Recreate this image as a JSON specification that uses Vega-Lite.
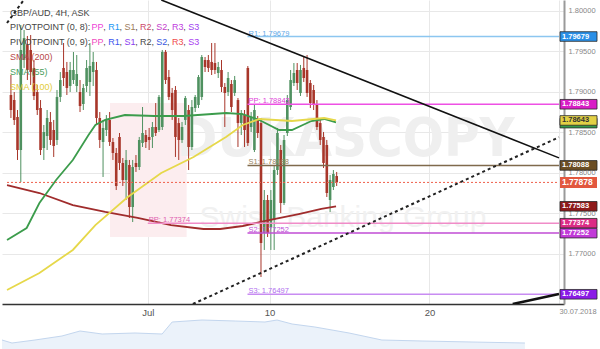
{
"$schema": "https://vega.github.io/schema/vega-lite/v6.json",
"padding": 0,
"background": "white",
"config": {"view": {"stroke": null}, "font": "Liberation Sans"},
"bounds": "flush",
"spacing": 16,
"datasets": {
"candles": [
{"i":0,"o":1.78957,"c":1.78772,"h":1.79204,"l":1.78673},
{"i":1,"o":1.78895,"c":1.78649,"h":1.78994,"l":1.78587},
{"i":2,"o":1.78686,"c":1.78278,"h":1.78772,"l":1.78155},
{"i":3,"o":1.78278,"c":1.79513,"h":1.79821,"l":1.77883},
{"i":4,"o":1.79389,"c":1.79661,"h":1.79760,"l":1.79291},
{"i":5,"o":1.79574,"c":1.79266,"h":1.79686,"l":1.79142},
{"i":6,"o":1.79513,"c":1.79241,"h":1.79698,"l":1.79081},
{"i":7,"o":1.79291,"c":1.78945,"h":1.79389,"l":1.78895},
{"i":8,"o":1.78994,"c":1.78772,"h":1.79081,"l":1.78710},
{"i":9,"o":1.78797,"c":1.78278,"h":1.78895,"l":1.78216},
{"i":10,"o":1.78303,"c":1.78500,"h":1.78587,"l":1.78155},
{"i":11,"o":1.78451,"c":1.78673,"h":1.78772,"l":1.78278},
{"i":12,"o":1.78624,"c":1.78402,"h":1.78747,"l":1.78340},
{"i":13,"o":1.78525,"c":1.78328,"h":1.78649,"l":1.78192},
{"i":14,"o":1.78402,"c":1.78933,"h":1.79019,"l":1.78340},
{"i":15,"o":1.78933,"c":1.79142,"h":1.79241,"l":1.78871},
{"i":16,"o":1.79291,"c":1.79167,"h":1.79599,"l":1.79068},
{"i":17,"o":1.79241,"c":1.79044,"h":1.79365,"l":1.78957},
{"i":18,"o":1.79068,"c":1.79266,"h":1.79365,"l":1.78994},
{"i":19,"o":1.79142,"c":1.79266,"h":1.79488,"l":1.79093},
{"i":20,"o":1.79068,"c":1.79216,"h":1.79451,"l":1.78994},
{"i":21,"o":1.78994,"c":1.78821,"h":1.79142,"l":1.78747},
{"i":22,"o":1.78846,"c":1.79044,"h":1.79093,"l":1.78772},
{"i":23,"o":1.79068,"c":1.79291,"h":1.79389,"l":1.78994},
{"i":24,"o":1.79118,"c":1.79315,"h":1.79599,"l":1.78945},
{"i":25,"o":1.79241,"c":1.79365,"h":1.79488,"l":1.79068},
{"i":26,"o":1.79266,"c":1.78673,"h":1.79365,"l":1.78587},
{"i":27,"o":1.78673,"c":1.78402,"h":1.78747,"l":1.78303},
{"i":28,"o":1.78377,"c":1.78550,"h":1.78649,"l":1.77945},
{"i":29,"o":1.78525,"c":1.78649,"h":1.78710,"l":1.78451},
{"i":30,"o":1.78649,"c":1.78377,"h":1.78747,"l":1.78328},
{"i":31,"o":1.78377,"c":1.78241,"h":1.78426,"l":1.78155},
{"i":32,"o":1.78241,"c":1.77834,"h":1.78303,"l":1.77784},
{"i":33,"o":1.78439,"c":1.78118,"h":1.78488,"l":1.78031},
{"i":34,"o":1.78118,"c":1.77908,"h":1.78179,"l":1.77834},
{"i":35,"o":1.77908,"c":1.78155,"h":1.78278,"l":1.77661},
{"i":36,"o":1.78093,"c":1.77574,"h":1.78155,"l":1.77439},
{"i":37,"o":1.77574,"c":1.78068,"h":1.78155,"l":1.77389},
{"i":38,"o":1.78118,"c":1.78068,"h":1.78216,"l":1.78007},
{"i":39,"o":1.78068,"c":1.78402,"h":1.78439,"l":1.78031},
{"i":40,"o":1.78365,"c":1.78488,"h":1.78809,"l":1.78315},
{"i":41,"o":1.78463,"c":1.78377,"h":1.78525,"l":1.78303},
{"i":42,"o":1.78439,"c":1.78402,"h":1.78550,"l":1.78278},
{"i":43,"o":1.78439,"c":1.78562,"h":1.78624,"l":1.78303},
{"i":44,"o":1.78562,"c":1.78488,"h":1.78858,"l":1.78451},
{"i":45,"o":1.78525,"c":1.78933,"h":1.78957,"l":1.78500},
{"i":46,"o":1.78562,"c":1.79488,"h":1.79513,"l":1.78525},
{"i":47,"o":1.79488,"c":1.79142,"h":1.79513,"l":1.79093},
{"i":48,"o":1.79179,"c":1.78933,"h":1.79266,"l":1.78895},
{"i":49,"o":1.78982,"c":1.78772,"h":1.79044,"l":1.78649},
{"i":50,"o":1.79019,"c":1.78439,"h":1.79068,"l":1.78192},
{"i":51,"o":1.78611,"c":1.78402,"h":1.78673,"l":1.78155},
{"i":52,"o":1.78402,"c":1.78562,"h":1.78624,"l":1.78365},
{"i":53,"o":1.78649,"c":1.78920,"h":1.78945,"l":1.78587},
{"i":54,"o":1.78772,"c":1.78315,"h":1.78834,"l":1.78031},
{"i":55,"o":1.78315,"c":1.78809,"h":1.78895,"l":1.78278},
{"i":56,"o":1.78797,"c":1.78933,"h":1.78957,"l":1.78747},
{"i":57,"o":1.78834,"c":1.79179,"h":1.79204,"l":1.78797},
{"i":58,"o":1.78933,"c":1.79426,"h":1.79451,"l":1.78895},
{"i":59,"o":1.79389,"c":1.79303,"h":1.79426,"l":1.79241},
{"i":60,"o":1.79389,"c":1.79291,"h":1.79451,"l":1.79241},
{"i":61,"o":1.79365,"c":1.79266,"h":1.79599,"l":1.79204},
{"i":62,"o":1.79352,"c":1.79266,"h":1.79599,"l":1.79216},
{"i":63,"o":1.79229,"c":1.79303,"h":1.79365,"l":1.79167},
{"i":64,"o":1.79266,"c":1.79056,"h":1.79389,"l":1.78994},
{"i":65,"o":1.79056,"c":1.78982,"h":1.79105,"l":1.78562},
{"i":66,"o":1.78994,"c":1.79167,"h":1.79241,"l":1.78945},
{"i":67,"o":1.79093,"c":1.78809,"h":1.79142,"l":1.78747},
{"i":68,"o":1.78982,"c":1.79142,"h":1.79192,"l":1.78945},
{"i":69,"o":1.78895,"c":1.78611,"h":1.78920,"l":1.78315},
{"i":70,"o":1.78611,"c":1.78735,"h":1.78772,"l":1.78463},
{"i":71,"o":1.78710,"c":1.78525,"h":1.78772,"l":1.78315},
{"i":72,"o":1.79291,"c":1.78365,"h":1.79315,"l":1.78328},
{"i":73,"o":1.78562,"c":1.78686,"h":1.78747,"l":1.78500},
{"i":74,"o":1.78278,"c":1.78772,"h":1.78834,"l":1.78253},
{"i":75,"o":1.78649,"c":1.78488,"h":1.78698,"l":1.78426},
{"i":76,"o":1.78611,"c":1.77130,"h":1.78673,"l":1.76710},
{"i":77,"o":1.77253,"c":1.77661,"h":1.77784,"l":1.77044},
{"i":78,"o":1.77661,"c":1.77253,"h":1.77723,"l":1.77204},
{"i":79,"o":1.77328,"c":1.77661,"h":1.77784,"l":1.77044},
{"i":80,"o":1.77414,"c":1.78031,"h":1.78093,"l":1.77044},
{"i":81,"o":1.78031,"c":1.78488,"h":1.78550,"l":1.77970},
{"i":82,"o":1.78278,"c":1.77624,"h":1.78340,"l":1.77500},
{"i":83,"o":1.77624,"c":1.78402,"h":1.78463,"l":1.77599},
{"i":84,"o":1.78488,"c":1.78895,"h":1.78957,"l":1.78451},
{"i":85,"o":1.78809,"c":1.79142,"h":1.79266,"l":1.78772},
{"i":86,"o":1.79105,"c":1.79229,"h":1.79352,"l":1.79068},
{"i":87,"o":1.79266,"c":1.79105,"h":1.79352,"l":1.79019},
{"i":88,"o":1.78982,"c":1.79266,"h":1.79328,"l":1.78945},
{"i":89,"o":1.79291,"c":1.79167,"h":1.79426,"l":1.79118},
{"i":90,"o":1.79266,"c":1.78982,"h":1.79451,"l":1.78933},
{"i":91,"o":1.79105,"c":1.78858,"h":1.79142,"l":1.78797},
{"i":92,"o":1.79019,"c":1.78834,"h":1.79081,"l":1.78772},
{"i":93,"o":1.78834,"c":1.78562,"h":1.78895,"l":1.78525},
{"i":94,"o":1.78611,"c":1.78402,"h":1.78673,"l":1.78340},
{"i":95,"o":1.78439,"c":1.78118,"h":1.78500,"l":1.78056},
{"i":96,"o":1.78340,"c":1.77747,"h":1.78402,"l":1.77698},
{"i":97,"o":1.77661,"c":1.77908,"h":1.77970,"l":1.77513},
{"i":98,"o":1.77821,"c":1.77982,"h":1.78031,"l":1.77784},
{"i":99,"o":1.77957,"c":1.77878,"h":1.78007,"l":1.77834}
],
"sma": [
{"s":"s200","i":-1.19,"v":1.77846},{"s":"s200","i":8.66,"v":1.77747},{"s":"s200","i":18.81,"v":1.77599},{"s":"s200","i":28.66,"v":1.77513},{"s":"s200","i":38.51,"v":1.77439},{"s":"s200","i":48.66,"v":1.77352},{"s":"s200","i":58.51,"v":1.77303},{"s":"s200","i":63.58,"v":1.77303},{"s":"s200","i":70.45,"v":1.7734},{"s":"s200","i":77.31,"v":1.77402},{"s":"s200","i":87.46,"v":1.77488},{"s":"s200","i":94.33,"v":1.7755},{"s":"s200","i":98.81,"v":1.77583},
{"s":"s55","i":-1.19,"v":1.77167},{"s":"s55","i":4.78,"v":1.77315},{"s":"s55","i":8.66,"v":1.77624},{"s":"s55","i":13.73,"v":1.77908},{"s":"s55","i":18.81,"v":1.78155},{"s":"s55","i":23.58,"v":1.78463},{"s":"s55","i":25.67,"v":1.78587},{"s":"s55","i":28.66,"v":1.78649},{"s":"s55","i":34.63,"v":1.7871},{"s":"s55","i":43.58,"v":1.78698},{"s":"s55","i":52.54,"v":1.78698},{"s":"s55","i":65.4,"v":1.78735},{"s":"s55","i":70.4,"v":1.78722},{"s":"s55","i":75.5,"v":1.78649},{"s":"s55","i":81.5,"v":1.78525},{"s":"s55","i":85.4,"v":1.78525},{"s":"s55","i":91.3,"v":1.78636},{"s":"s55","i":95.2,"v":1.78661},{"s":"s55","i":98.81,"v":1.78618},
{"s":"s100","i":-1.19,"v":1.7655},{"s":"s100","i":8.66,"v":1.7676},{"s":"s100","i":18.81,"v":1.77044},{"s":"s100","i":25.67,"v":1.77352},{"s":"s100","i":35.52,"v":1.77698},{"s":"s100","i":45.67,"v":1.77994},{"s":"s100","i":55.52,"v":1.78192},{"s":"s100","i":65.37,"v":1.78439},{"s":"s100","i":70.45,"v":1.78587},{"s":"s100","i":75.52,"v":1.78661},{"s":"s100","i":85.37,"v":1.78636},{"s":"s100","i":95.22,"v":1.78673},{"s":"s100","i":98.81,"v":1.78643}
],
"pivots": [
{"k":"R1","p":1.79679,"s":71.9,"t":"R1: 1.79679"},
{"k":"PP","p":1.78843,"s":71.9,"t":"PP: 1.78843"},
{"k":"S1","p":1.78088,"s":71.9,"t":"S1: 1.78088"},
{"k":"S2","p":1.77252,"s":71.9,"t":"S2: 1.77252"},
{"k":"S3","p":1.76497,"s":71.9,"t":"S3: 1.76497"},
{"k":"PP9","p":1.77374,"s":41.6,"t":"PP: 1.77374"}
],
"trend": [
{"id":"down","i":45.7,"v":1.8013},{"id":"down","i":166.567,"v":1.78181},
{"id":"up","i":55.3,"v":1.76377},{"id":"up","i":166.567,"v":1.78436},
{"id":"corner","i":-1.194,"v":1.79846},{"id":"corner","i":3.9,"v":1.8013},
{"id":"thick","i":152.5,"v":1.76377},{"id":"thick","i":166.567,"v":1.765}
],
"leg": [
{"t":"GBP/AUD, 4H, ASK","k":"base","i":-0.3,"p":1.79973},
{"t":"PIVOTPOINT (0, 8):","k":"base","i":-0.3,"p":1.798},
{"t":"PP","k":"a_pp","i":24.48,"p":1.798},{"t":",","k":"base","i":28.06,"p":1.798},
{"t":"R1","k":"a_r1","i":29.55,"p":1.798},{"t":",","k":"base","i":32.99,"p":1.798},
{"t":"S1","k":"a_s1","i":34.48,"p":1.798},{"t":",","k":"base","i":37.76,"p":1.798},
{"t":"R2","k":"a_r2","i":39.25,"p":1.798},{"t":",","k":"base","i":42.69,"p":1.798},
{"t":"S2","k":"a_s2","i":44.18,"p":1.798},{"t":",","k":"base","i":47.46,"p":1.798},
{"t":"R3","k":"a_r3","i":48.96,"p":1.798},{"t":",","k":"base","i":52.39,"p":1.798},
{"t":"S3","k":"a_s3","i":53.88,"p":1.798},
{"t":"PIVOTPOINT (0, 9):","k":"base","i":-0.3,"p":1.79615},
{"t":"PP","k":"b_pp","i":24.48,"p":1.79615},{"t":",","k":"base","i":28.06,"p":1.79615},
{"t":"R1","k":"b_r1","i":29.55,"p":1.79615},{"t":",","k":"base","i":32.99,"p":1.79615},
{"t":"S1","k":"b_s1","i":34.48,"p":1.79615},{"t":",","k":"base","i":37.76,"p":1.79615},
{"t":"R2","k":"b_r2","i":39.25,"p":1.79615},{"t":",","k":"base","i":42.69,"p":1.79615},
{"t":"S2","k":"b_s2","i":44.18,"p":1.79615},{"t":",","k":"base","i":47.46,"p":1.79615},
{"t":"R3","k":"b_r3","i":48.96,"p":1.79615},{"t":",","k":"base","i":52.39,"p":1.79615},
{"t":"S3","k":"b_s3","i":53.88,"p":1.79615},
{"t":"SMA (200)","k":"l200","i":-0.3,"p":1.7943},
{"t":"SMA (55)","k":"l55","i":-0.3,"p":1.79245},
{"t":"SMA (100)","k":"l100","i":-0.3,"p":1.7906}
],
"tags": [
{"k":"r1","p":1.79679,"t":"1.79679"},
{"k":"pp","p":1.78843,"t":"1.78843"},
{"k":"s55","p":1.7861,"t":"1.78610"},
{"k":"s100","p":1.78643,"t":"1.78643"},
{"k":"s1","p":1.78088,"t":"1.78088"},
{"k":"s200","p":1.77583,"t":"1.77583"},
{"k":"pp9","p":1.77374,"t":"1.77374"},
{"k":"s2","p":1.77252,"t":"1.77252"},
{"k":"s3","p":1.76497,"t":"1.76497"},
{"k":"last","p":1.77878,"t":"1.77878"}
],
"nav": [
{"i":-1.19,"h":9},{"i":1.79,"h":6},{"i":8.66,"h":9},{"i":16.7,"h":13},{"i":22.1,"h":18},{"i":28.7,"h":15},{"i":38.5,"h":16},{"i":46.6,"h":15},{"i":49.6,"h":27},{"i":58.5,"h":29},{"i":68.4,"h":28},{"i":77.3,"h":27},{"i":80.9,"h":29},{"i":85.4,"h":25},{"i":92.2,"h":22},{"i":102.4,"h":16},{"i":112.2,"h":9},{"i":124.2,"h":8},{"i":139.1,"h":7},{"i":154.9,"h":6}
]
},
"vconcat": [
{
"width": 562,
"height": 304,
"encoding": {
"x": {"type": "quantitative", "scale": {"domain": [-1.194, 166.567], "nice": false, "zero": false},
 "axis": {"values": [41.6, 78.6, 127.2, 166.567], "title": null, "ticks": false, "domain": true, "domainColor": "#333333", "domainWidth": 1.5, "grid": true, "gridColor": "#e8e8e8", "labelPadding": 3, "labelOverlap": false, "labelBound": false, "labelFlush": false,
  "labelExpr": "datum.value < 60 ? 'Jul' : datum.value < 100 ? '10' : datum.value < 150 ? '20' : '30.07.2018'",
  "labelAlign": {"condition": {"test": "datum.value > 150", "value": "left"}, "value": "center"},
  "labelFontSize": {"condition": {"test": "datum.value > 150", "value": 7.4}, "value": 9.5},
  "labelColor": {"condition": {"test": "datum.value > 150", "value": "#888888"}, "value": "#555555"}}},
"y": {"type": "quantitative", "scale": {"domain": [1.76377, 1.8013], "nice": false, "zero": false},
 "axis": {"orient": "right", "values": [1.77, 1.775, 1.78, 1.785, 1.79, 1.795, 1.8], "format": ".5f", "title": null, "ticks": false, "domainColor": "#9a9a9a", "domainWidth": 2, "grid": true, "gridColor": "#e8e8e8", "labelColor": "#888888", "labelFontSize": 7.5, "labelPadding": 4}}
},
"resolve": {"scale": {"color": "independent", "strokeWidth": "independent"}},
"layer": [
{
"data": {"values": [{}]},
"mark": {"type": "rect", "color": "#fcedef"},
"encoding": {
"x": {"datum": 30.1},
"x2": {"datum": 53.4},
"y": {"datum": 1.78858},
"y2": {"datum": 1.77204}
}
},
{
"data": {"values": [{"t": "DUKASCOPY"}]},
"mark": {"type": "text", "font": "DejaVu Sans Condensed, Liberation Sans", "fontWeight": "bold", "fontSize": 54, "color": "#efefef", "align": "center", "baseline": "middle"},
"encoding": {
"x": {"datum": 101.8},
"y": {"datum": 1.78402},
"text": {"field": "t"}
}
},
{
"data": {"values": [{"t": "Swiss Banking Group"}]},
"mark": {"type": "text", "fontSize": 30, "color": "#f1f1f1", "align": "center", "baseline": "middle"},
"encoding": {
"x": {"datum": 100.9},
"y": {"datum": 1.77439},
"text": {"field": "t"}
}
},
{
"data": {"name": "candles"},
"mark": {"type": "rule", "strokeWidth": 1},
"encoding": {
"x": {"field": "i"},
"y": {"field": "l"},
"y2": {"field": "h"},
"color": {"condition": {"test": "datum.c >= datum.o", "value": "#4f9160"}, "value": "#a8362a"}
}
},
{
"data": {"name": "candles"},
"mark": {"type": "bar", "size": 2.6},
"encoding": {
"x": {"field": "i"},
"y": {"field": "o"},
"y2": {"field": "c"},
"color": {"condition": {"test": "datum.c >= datum.o", "value": "#4f9160"}, "value": "#a8362a"}
}
},
{
"data": {"name": "sma"},
"mark": {"type": "line", "strokeWidth": 1.8, "clip": true},
"encoding": {
"x": {"field": "i"},
"y": {"field": "v"},
"color": {"field": "s", "type": "nominal", "scale": {"domain": ["s200", "s55", "s100"], "range": ["#a02c2c", "#3c9c4c", "#e6d84a"]}, "legend": null}
}
},
{
"data": {"name": "pivots"},
"mark": {"type": "rule"},
"encoding": {
"x": {"field": "s"},
"x2": {"datum": 166.567},
"y": {"field": "p"},
"color": {"field": "k", "type": "nominal", "scale": {"domain": ["R1", "PP", "S1", "S2", "S3", "PP9"], "range": ["#8cc6f0", "#ee50e4", "#7f6a4c", "#c04cd4", "#c88cf2", "#f08cc8"]}, "legend": null},
"strokeWidth": {"field": "k", "type": "nominal", "scale": {"domain": ["R1", "PP", "S1", "S2", "S3", "PP9"], "range": [1.5, 1.5, 1.5, 1.5, 2, 2]}, "legend": null}
}
},
{
"data": {"name": "pivots"},
"mark": {"type": "text", "fontSize": 7.5, "align": "left", "baseline": "bottom", "dx": 1, "dy": 1},
"encoding": {
"x": {"field": "s"},
"y": {"field": "p"},
"text": {"field": "t"},
"color": {"field": "k", "type": "nominal", "scale": {"domain": ["R1", "PP", "S1", "S2", "S3", "PP9"], "range": ["#5fa8e6", "#e040d8", "#9a8560", "#c050d8", "#b070ee", "#e060b0"]}, "legend": null}
}
},
{
"data": {"values": [{}]},
"mark": {"type": "rule", "color": "#ef5f4a", "strokeDash": [2, 2], "strokeWidth": 1},
"encoding": {
"x": {"datum": -1.194},
"x2": {"datum": 166.567},
"y": {"datum": 1.77878}
}
},
{
"data": {"name": "trend"},
"transform": [{"filter": "datum.id == 'down'"}],
"mark": {"type": "line", "color": "#111111", "strokeWidth": 1.6, "clip": true},
"encoding": {
"x": {"field": "i"},
"y": {"field": "v"}
}
},
{
"data": {"name": "trend"},
"transform": [{"filter": "datum.id == 'up' || datum.id == 'corner'"}],
"mark": {"type": "line", "color": "#222222", "strokeWidth": 2, "strokeDash": [3, 3], "clip": true},
"encoding": {
"x": {"field": "i"},
"y": {"field": "v"},
"detail": {"field": "id"}
}
},
{
"data": {"name": "trend"},
"transform": [{"filter": "datum.id == 'thick'"}],
"mark": {"type": "line", "color": "#111111", "strokeWidth": 2.6, "clip": true},
"encoding": {
"x": {"field": "i"},
"y": {"field": "v"}
}
},
{
"data": {"name": "leg"},
"mark": {"type": "text", "fontSize": 9, "align": "left", "baseline": "middle"},
"encoding": {
"x": {"field": "i"},
"y": {"field": "p"},
"text": {"field": "t"},
"color": {"field": "k", "type": "nominal", "scale": {"domain": ["base", "a_pp", "a_r1", "a_s1", "a_r2", "a_s2", "a_r3", "a_s3", "b_pp", "b_r1", "b_s1", "b_r2", "b_s2", "b_r3", "b_s3", "l200", "l55", "l100"], "range": ["#444444", "#ee44d8", "#2196f3", "#9c7c5a", "#cc4a6a", "#c43ccc", "#c040e0", "#a040f0", "#f04cc0", "#3d55ee", "#8a3cf0", "#4a4a4a", "#3556e0", "#f04c4c", "#a83cf0", "#b84a4a", "#4a9e5c", "#e2cc3a"]}, "legend": null}
}
},
{
"data": {"name": "tags"},
"transform": [{"filter": "datum.k != 'last'"}],
"mark": {"type": "rect", "xOffset": 1, "x2Offset": 38, "yOffset": -4.8, "y2Offset": 4.8, "stroke": "#2a2a2a", "strokeWidth": 0.8},
"encoding": {
"x": {"datum": 166.567},
"x2": {"datum": 166.567},
"y": {"field": "p"},
"y2": {"field": "p"},
"color": {"field": "k", "type": "nominal", "scale": {"domain": ["r1", "pp", "s55", "s100", "s1", "s200", "pp9", "s2", "s3"], "range": ["#2a8fe6", "#d81ec6", "#35994a", "#e2d045", "#6b4e24", "#8e1a1a", "#db2c86", "#c13ad8", "#8a1be6"]}, "legend": null}
}
},
{
"data": {"name": "tags"},
"transform": [{"filter": "datum.k != 'last' && datum.k != 's55'"}],
"mark": {"type": "text", "fontSize": 7.5, "fontWeight": "bold", "align": "left", "baseline": "middle", "dx": 3},
"encoding": {
"x": {"datum": 166.567},
"y": {"field": "p"},
"text": {"field": "t"},
"color": {"condition": {"test": "datum.k == 's100'", "value": "#333333"}, "value": "#ffffff"}
}
},
{
"data": {"name": "tags"},
"transform": [{"filter": "datum.k == 'last'"}],
"mark": {"type": "rect", "color": "#e2583f", "xOffset": 1, "x2Offset": 38, "yOffset": -5.5, "y2Offset": 5.5},
"encoding": {
"x": {"datum": 166.567},
"x2": {"datum": 166.567},
"y": {"field": "p"},
"y2": {"field": "p"}
}
},
{
"data": {"name": "tags"},
"transform": [{"filter": "datum.k == 'last'"}],
"mark": {"type": "text", "fontSize": 8.5, "fontWeight": "bold", "align": "left", "baseline": "middle", "dx": 3, "color": "#ffffff"},
"encoding": {
"x": {"datum": 166.567},
"y": {"field": "p"},
"text": {"field": "t"}
}
}
]
},
{
"width": 562,
"height": 29,
"data": {"name": "nav"},
"mark": {"type": "area", "color": "#e2ecf8", "line": {"color": "#c3d6ee", "strokeWidth": 1}},
"encoding": {
"x": {"field": "i", "type": "quantitative", "scale": {"domain": [-1.194, 166.567], "nice": false, "zero": false}, "axis": null},
"y": {"field": "h", "type": "quantitative", "scale": {"domain": [0, 29], "nice": false}, "axis": null}
}
}
]
}
